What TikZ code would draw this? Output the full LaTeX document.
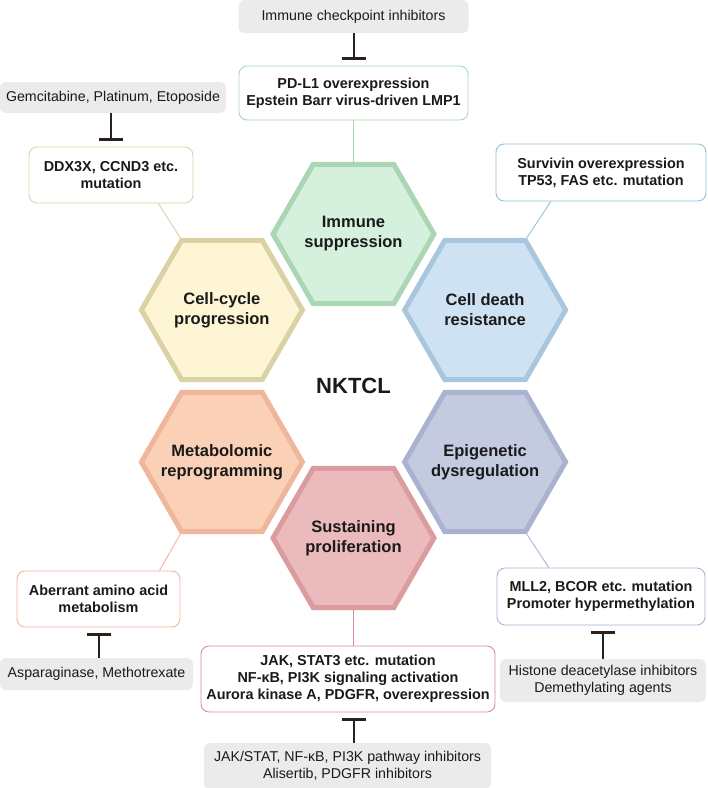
\documentclass[tikz,border=0pt]{standalone}
\usepackage{fontspec}
\setmainfont{Liberation Sans}
\usetikzlibrary{shapes.geometric,arrows.meta}
\definecolor{txt}{HTML}{1A1A1A}
\definecolor{grayfill}{HTML}{EBEBEB}
\definecolor{inhc}{HTML}{2B2020}
\definecolor{isF}{HTML}{D5F0DC}\definecolor{isD}{HTML}{AAD6B3}\definecolor{isB}{HTML}{A9D9AE}
\definecolor{ccF}{HTML}{FDF5D4}\definecolor{ccD}{HTML}{DAD1A4}\definecolor{ccB}{HTML}{DCD3AB}
\definecolor{cdF}{HTML}{CFE2F3}\definecolor{cdD}{HTML}{A8C7DF}\definecolor{cdB}{HTML}{8FC3D8}
\definecolor{mrF}{HTML}{FAD0B6}\definecolor{mrD}{HTML}{EFB69B}\definecolor{mrB}{HTML}{F2B29E}
\definecolor{edF}{HTML}{C4CBE0}\definecolor{edD}{HTML}{A9B3CF}\definecolor{edB}{HTML}{A9B4D6}
\definecolor{spF}{HTML}{EBBABC}\definecolor{spD}{HTML}{DB9C9F}\definecolor{spB}{HTML}{D98D92}
\tikzset{
  hexa/.style={regular polygon, regular polygon sides=6, minimum size=161pt, inner sep=0pt,
    line width=5pt},
  hexlabel/.style={font=\fontsize{16.5}{20}\selectfont\bfseries, text=txt, align=center, inner sep=0pt},
  infobox/.style={draw=#1, line width=0.9pt, rounded corners=8pt, fill=white, align=center,
    font=\fontsize{14.4}{17}\selectfont\bfseries, text=txt, inner sep=0pt},
  drugbox/.style={fill=grayfill, rounded corners=6pt, align=center,
    font=\fontsize{14.2}{17}\selectfont, text=txt, inner sep=0pt},
  inhib/.style={draw=inhc, line width=2pt, -{Bar[width=24pt,line width=3pt]}, shorten >=6pt},
  link/.style={draw=#1, line width=0.9pt}
}
\begin{document}
\begin{tikzpicture}[x=1pt,y=-1pt]
\useasboundingbox (0,0) rectangle (708,788);
% hexagons
\node[hexa, draw=isD, fill=isF] (hIS) at (353.5,234) {};
\node[hexa, draw=ccD, fill=ccF] (hCC) at (221.9,310) {};
\node[hexa, draw=cdD, fill=cdF] (hCD) at (485.1,310) {};
\node[hexa, draw=mrD, fill=mrF] (hMR) at (221.9,462) {};
\node[hexa, draw=edD, fill=edF] (hED) at (485.1,462) {};
\node[hexa, draw=spD, fill=spF] (hSP) at (353.5,538) {};
\node[hexlabel] (tIS) at (hIS) {Immune\\suppression};
\node[hexlabel] (tCC) at (hCC) {Cell-cycle\\progression};
\node[hexlabel] (tCD) at (hCD) {Cell death\\resistance};
\node[hexlabel] (tMR) at (hMR) {Metabolomic\\reprogramming};
\node[hexlabel] (tED) at (hED) {Epigenetic\\dysregulation};
\node[hexlabel] (tSP) at (hSP) {Sustaining\\proliferation};
\node[font=\fontsize{22}{26}\selectfont\bfseries, text=txt] (nk) at (353.5,386) {NKTCL};
% info boxes
\node[infobox=isB, minimum width=229pt, minimum height=54pt] (bIS) at (353.5,93)
  {PD-L1 overexpression\\Epstein Barr virus-driven LMP1};
\node[infobox=ccB, minimum width=164pt, minimum height=56pt] (bCC) at (111,175)
  {DDX3X, CCND3 etc.\\mutation};
\node[infobox=cdB, minimum width=210pt, minimum height=57pt] (bCD) at (601,172.5)
  {Survivin overexpression\\TP53, FAS etc. mutation};
\node[infobox=mrB, minimum width=163pt, minimum height=56pt] (bMR) at (98.5,599)
  {Aberrant amino acid\\metabolism};
\node[infobox=edB, minimum width=208pt, minimum height=57pt] (bED) at (601,596.5)
  {MLL2, BCOR etc. mutation\\Promoter hypermethylation};
\node[infobox=spB, minimum width=294pt, minimum height=66pt] (bSP) at (348,679)
  {JAK, STAT3 etc. mutation\\NF-κB, PI3K signaling activation\\Aurora kinase A, PDGFR, overexpression};
% drug boxes
\node[drugbox, minimum width=230pt, minimum height=33pt] (dIS) at (353.5,16.5) {Immune checkpoint inhibitors};
\node[drugbox, minimum width=226pt, minimum height=31pt] (dCC) at (113,97.5) {Gemcitabine, Platinum, Etoposide};
\node[drugbox, minimum width=193pt, minimum height=32pt] (dMR) at (96.5,674) {Asparaginase, Methotrexate};
\node[drugbox, minimum width=206pt, minimum height=43pt] (dED) at (603,680.5) {Histone deacetylase inhibitors\\Demethylating agents};
\node[drugbox, minimum width=287pt, minimum height=46pt] (dSP) at (347.5,766) {JAK/STAT, NF-κB, PI3K pathway inhibitors\\Alisertib, PDGFR inhibitors};
% links
\draw[link=isB] (bIS) -- (hIS);
\draw[link=ccB] (bCC.-31) -- (hCC.120);
\draw[link=cdB] (bCD.210) -- (hCD.60);
\draw[link=mrB] (bMR.25) -- (hMR.240);
\draw[link=edB] (bED.151) -- (hED.300);
\draw[link=spB] (hSP.south) -- (hSP.south |- bSP.north);
% inhibitions
\draw[inhib] (dIS) -- (bIS);
\draw[inhib] (dCC.south -| bCC.north) -- (bCC.north);
\draw[inhib] (dMR.north -| bMR.south) -- (bMR.south);
\draw[inhib] (dED.north) -- (dED.north |- bED.south);
\draw[inhib] (dSP.north -| hSP.south) -- (hSP.south |- bSP.south);
\end{tikzpicture}
\end{document}
